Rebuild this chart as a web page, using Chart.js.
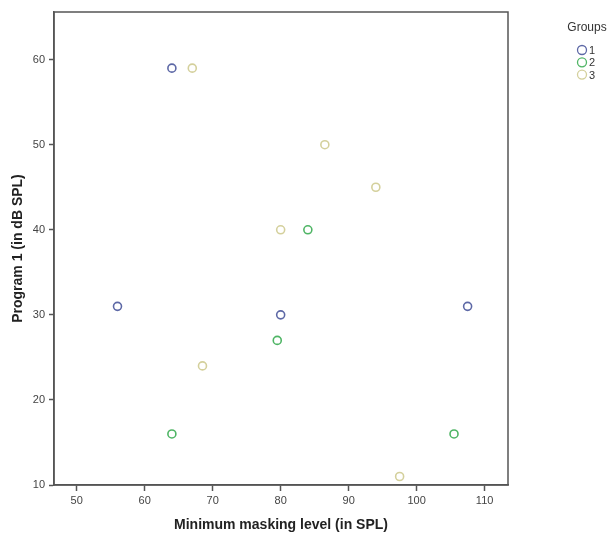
<!DOCTYPE html>
<html>
<head>
<meta charset="utf-8">
<script src="https://cdn.jsdelivr.net/npm/chart.js@4/dist/chart.umd.min.js"></script>
<style>
  html, body { margin: 0; padding: 0; background: #fff; }
  #wrap { width: 611px; height: 538px; }
</style>
</head>
<body>
<div id="wrap"><canvas id="c" width="611" height="538"></canvas></div>
<script>
// ---- data ----
const groupNames = ['1', '2', '3'];
const group1 = [[64, 59], [56, 31], [80, 30], [107.5, 31]];
const group2 = [[84, 40], [79.5, 27], [64, 16], [105.5, 16]];
const group3 = [[67, 59], [86.5, 50], [94, 45], [80, 40], [68.5, 24], [97.5, 11]];
const groupColors = ['#5d68a6', '#4fb565', '#d4d09c'];
const xTicks = [50, 60, 70, 80, 90, 100, 110];
const yTicks = [10, 20, 30, 40, 50, 60];
const xTitle = 'Minimum masking level (in SPL)';
const yTitle = 'Program 1 (in dB SPL)';
const legendTitle = 'Groups';

const FONT = "Arial, 'Liberation Sans', sans-serif";
const groups = [group1, group2, group3];

const datasets = groups.map((g, i) => ({
  label: groupNames[i],
  data: g.map(p => ({x: p[0], y: p[1]})),
  borderColor: groupColors[i],
  backgroundColor: 'rgba(0,0,0,0)',
  pointRadius: 4,
  pointHoverRadius: 4,
  pointBorderWidth: 1.6,
  pointStyle: 'circle'
}));

const framePlugin = {
  id: 'frame',
  afterDraw(chart) {
    const {ctx, chartArea: a} = chart;
    ctx.save();
    ctx.strokeStyle = '#555';
    ctx.lineWidth = 1.5;
    ctx.strokeRect(a.left, a.top, a.right - a.left, a.bottom - a.top);
    // legend
    ctx.fillStyle = '#333';
    ctx.font = '12px ' + FONT;
    ctx.textAlign = 'center';
    ctx.textBaseline = 'middle';
    ctx.fillText(legendTitle, 587, 28);
    ctx.font = '11px ' + FONT;
    ctx.textAlign = 'left';
    chart.data.datasets.forEach((ds, i) => {
      const y = 50 + i * 12.3;
      ctx.beginPath();
      ctx.arc(582, y, 4.5, 0, Math.PI * 2);
      ctx.strokeStyle = ds.borderColor;
      ctx.lineWidth = 1.3;
      ctx.stroke();
      ctx.fillStyle = '#333';
      ctx.fillText(ds.label, 589, y + 1);
    });
    ctx.restore();
  }
};

new Chart(document.getElementById('c'), {
  type: 'scatter',
  data: { datasets },
  options: {
    responsive: false,
    animation: false,
    devicePixelRatio: 1,
    layout: { padding: { left: 0, right: 103, top: 12, bottom: 0 } },
    plugins: { legend: { display: false }, tooltip: { enabled: false } },
    scales: {
      x: {
        type: 'linear',
        min: 46.66,
        max: 113.44,
        afterFit(s) { s.height = 53; },
        afterBuildTicks(s) { s.ticks = xTicks.map(v => ({value: v})); },
        grid: { drawOnChartArea: false, drawTicks: true, tickLength: 6, color: '#555', tickWidth: 1.5 },
        border: { display: true, color: '#555', width: 1.5 },
        ticks: { padding: 3, color: '#444', font: { family: FONT, size: 11 }, maxRotation: 0 },
        title: { display: true, text: xTitle, color: '#222', padding: { top: 0, bottom: 4 },
                 font: { family: FONT, size: 14, weight: 'bold' } }
      },
      y: {
        type: 'linear',
        min: 10,
        max: 65.6,
        afterFit(s) { s.width = 54; },
        afterBuildTicks(s) { s.ticks = yTicks.map(v => ({value: v})); },
        grid: { drawOnChartArea: false, drawTicks: true, tickLength: 5, color: '#555', tickWidth: 1.5 },
        border: { display: true, color: '#555', width: 1.5 },
        ticks: { padding: 4, color: '#444', font: { family: FONT, size: 11 } },
        title: { display: true, text: yTitle, color: '#222', padding: { top: 10, bottom: 0 },
                 font: { family: FONT, size: 14, weight: 'bold' } }
      }
    }
  },
  plugins: [framePlugin]
});
</script>
</body>
</html>
